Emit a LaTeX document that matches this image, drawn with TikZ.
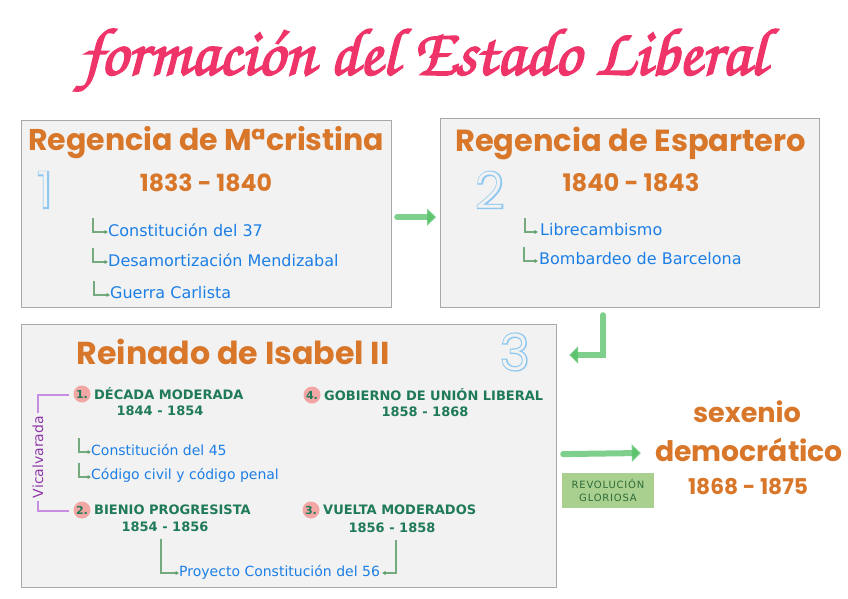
\documentclass[tikz,border=0pt]{standalone}
\usepackage{fontspec}
\usepackage{graphicx}
\usetikzlibrary{calc,arrows.meta}
\setmainfont{DejaVu Sans}
\newfontfamily\headfont{Poppins}
\newfontfamily\numfont{Poppins Light}
\newfontfamily\numfontfat[FakeBold=5]{Poppins Light}
\newfontfamily\titlefont[FakeBold=2.5]{texgyrechorus-mediumitalic.otf}
\newfontfamily\revfont[LetterSpace=8]{DejaVu Sans}
\definecolor{titlepink}{HTML}{EE3468}
\definecolor{headorange}{HTML}{D8772A}
\definecolor{boxfill}{HTML}{F2F2F2}
\definecolor{boxline}{HTML}{A8A8A8}
\definecolor{itemblue}{HTML}{1C7FE6}
\definecolor{labgreen}{HTML}{1F7A57}
\definecolor{arrgreen}{HTML}{5E9E6A}
\definecolor{biggreen}{HTML}{5DC46E}
\definecolor{numpink}{HTML}{F3A7A5}
\definecolor{vicpurple}{HTML}{8E3BA8}
\definecolor{vicline}{HTML}{C78DE0}
\definecolor{revfill}{HTML}{A9D08E}
\definecolor{revtext}{HTML}{2E6B3A}
\definecolor{numblue}{HTML}{8EC8F0}
\tikzset{
  panel/.style={draw=boxline, fill=boxfill, line width=1.2pt, anchor=north west, inner sep=0pt},
  heading/.style={text=headorange, font=\headfont\bfseries, inner sep=0pt},
  item/.style={text=itemblue, font=\fontsize{16}{18}\selectfont, inner sep=0pt, anchor=west},
  smallitem/.style={text=itemblue, font=\fontsize{14}{16}\selectfont, inner sep=0pt, anchor=west},
  iarr/.style={draw=arrgreen, line width=1.3pt, draw opacity=0.85, -{Triangle[length=3.5pt,width=4pt]}},
  bigarr/.style={draw=biggreen, line width=6pt, draw opacity=0.8, line cap=round, -{Triangle[length=9pt,width=17pt]}},
  numc/.style={circle, fill=numpink, minimum size=17pt, inner sep=0pt, text=labgreen, font=\bfseries\fontsize{11}{11}\selectfont},
  lab/.style={text=labgreen, font=\bfseries\fontsize{13}{15}\selectfont, inner sep=0pt},
  bignumout/.style={text=numblue, font=\numfontfat\fontsize{50}{50}\selectfont, inner sep=0pt},
  bignumin/.style={text=boxfill, font=\numfont\fontsize{50}{50}\selectfont, inner sep=0pt},
  vicl/.style={draw=vicline, line width=1.2pt}
}
\begin{document}
\begin{tikzpicture}[x=1pt,y=-1pt]
\useasboundingbox (0,0) rectangle (848,599);
\fill[white] (0,0) rectangle (848,599);
% title
\node[text=titlepink, font=\titlefont, inner sep=0pt] (title) at (423,60) {\resizebox{685pt}{!}{formación del Estado Liberal}};
% panels
\node[panel, minimum width=370pt, minimum height=187pt] (b1) at (21,120) {};
\node[panel, minimum width=379pt, minimum height=189pt] (b2) at (440,118) {};
\node[panel, minimum width=535pt, minimum height=263pt] (b3) at (21,324) {};
% panel 1
\node[heading, anchor=west] (h1) at (28,143) {\resizebox{356pt}{!}{Regencia de Mªcristina}};
\node[heading] (yr1) at (206,183) {\resizebox{132pt}{!}{1833 - 1840}};
\node[bignumout] (num1) at (45,190) {1};
\node[bignumin] (num1in) at (45,190) {1};
\node[item] (i11) at (108,230) {Constitución del 37};
\node[item] (i12) at (108,260) {Desamortización Mendizabal};
\node[item] (i13) at (110,293) {Guerra Carlista};
\draw[iarr] ($(i11.west)+(-15,-12)$) |- ($(i11.west)+(0,2)$);
\draw[iarr] ($(i12.west)+(-15,-12)$) |- ($(i12.west)+(0,2)$);
\draw[iarr] ($(i13.west)+(-16,-12)$) |- ($(i13.west)+(0,2)$);
% panel 2
\node[heading, anchor=west] (h2) at (455,143) {\resizebox{351pt}{!}{Regencia de Espartero}};
\node[heading] (yr2) at (631,183) {\resizebox{137pt}{!}{1840 - 1843}};
\node[bignumout] (num2) at (490,190) {2};
\node[bignumin] (num2in) at (490,190) {2};
\node[item] (i21) at (540,230) {Librecambismo};
\node[item] (i22) at (539,259) {Bombardeo de Barcelona};
\draw[iarr] ($(i21.west)+(-15,-12)$) |- ($(i21.west)+(-2,2)$);
\draw[iarr] ($(i22.west)+(-15,-12)$) |- ($(i22.west)+(-1,2)$);
% connectors between panels
\draw[bigarr] ($(b1.east)+(5,3)$) -- ($(b2.west)+(-4,4)$);
\draw[bigarr] ($(b2.south)+(-27,7)$) |- ($(b3.north east)+(12,31)$);
% panel 3
\node[heading] (h3) at (233,352) {\resizebox{313pt}{!}{Reinado de Isabel II}};
\node[bignumout] (num3) at (515,352) {3};
\node[bignumin] (num3in) at (515,352) {3};
\node[numc] (n1) at (82,394) {1.};
\node[lab, anchor=west] (c1) at (94,394) {DÉCADA MODERADA};
\node[lab] (y1) at (160,411) {1844 - 1854};
\node[numc] (n4) at (312,395) {4.};
\node[lab, anchor=west] (c4) at (324,395) {GOBIERNO DE UNIÓN LIBERAL};
\node[lab] (y4) at (425,412) {1858 - 1868};
\node[smallitem] (i31) at (91,450) {Constitución del 45};
\node[smallitem] (i32) at (91,475) {Código civil y código penal};
\draw[iarr] ($(i31.west)+(-12,-12)$) |- ($(i31.west)+(0,2)$);
\draw[iarr] ($(i32.west)+(-12,-12)$) |- ($(i32.west)+(0,2)$);
\node[numc] (n2) at (82,510) {2.};
\node[lab, anchor=west] (c2) at (94,510) {BIENIO PROGRESISTA};
\node[lab] (y2) at (165,527) {1854 - 1856};
\node[numc] (n3) at (311,510) {3.};
\node[lab, anchor=west] (c3) at (323,510) {VUELTA MODERADOS};
\node[lab] (y3) at (392,528) {1856 - 1858};
\node[smallitem] (p56) at (179,572) {Proyecto Constitución del 56};
\draw[iarr] ($(y2.south)+(-4,7)$) |- ($(p56.west)+(0,1)$);
\draw[iarr] ($(y3.south)+(4,7)$) |- ($(p56.east)+(2,1)$);
% Vicalvarada
\node[text=vicpurple, font=\fontsize{14}{14}\selectfont, rotate=90, inner sep=3pt] (vic) at (38,457) {Vicalvarada};
\draw[vicl] ($(n1.west)+(-4,1)$) -| (vic.east);
\draw[vicl] ($(n2.west)+(-4,1)$) -| (vic.west);
% right side
\node[heading] (sex) at (747,412) {\resizebox{108pt}{!}{sexenio}};
\node[heading] (dem) at (749,450) {\resizebox{188pt}{!}{democrático}};
\node[heading] (y5) at (748,487) {\resizebox{120pt}{!}{1868 - 1875}};
\draw[bigarr] ($(b3.east)+(6,-2)$) -- ($(dem.west)+(-14,3)$);
\node[fill=revfill, minimum width=92pt, minimum height=35pt, inner sep=0pt, align=center, text=revtext, font=\revfont\fontsize{10}{13}\selectfont] (rev) at (608,490.5) {REVOLUCIÓN\\GLORIOSA};
\end{tikzpicture}
\end{document}
